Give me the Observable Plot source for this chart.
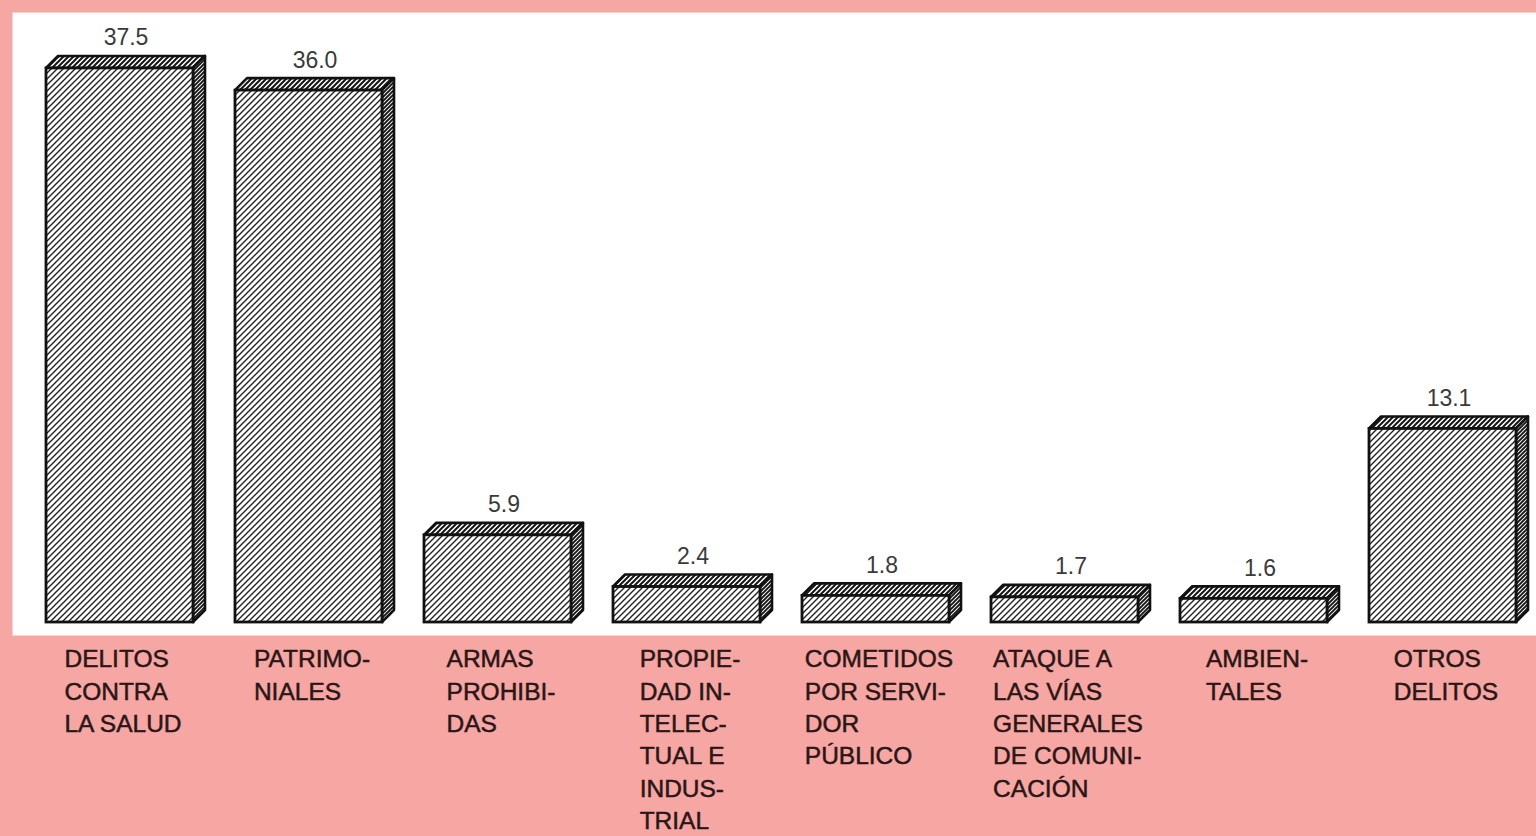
<!DOCTYPE html>
<html><head><meta charset="utf-8">
<script src="https://cdn.jsdelivr.net/npm/d3@7"></script>
<script src="https://cdn.jsdelivr.net/npm/@observablehq/plot@0.6"></script>
<style>
html,body{margin:0;padding:0;background:#F6A6A3;overflow:hidden}
#chart svg{display:block}
</style></head><body><div id="chart"></div>
<script>
const categories = ["Delitos contra la salud","Patrimoniales","Armas prohibidas","Propiedad intelectual e industrial","Cometidos por servidor público","Ataque a las vías generales de comunicación","Ambientales","Otros delitos"];
const values = [37.5, 36.0, 5.9, 2.4, 1.8, 1.7, 1.6, 13.1];
const valueLabels = ["37.5","36.0","5.9","2.4","1.8","1.7","1.6","13.1"];
const categoryLabels = [
  "DELITOS\nCONTRA\nLA SALUD",
  "PATRIMO-\nNIALES",
  "ARMAS\nPROHIBI-\nDAS",
  "PROPIE-\nDAD IN-\nTELEC-\nTUAL E\nINDUS-\nTRIAL",
  "COMETIDOS\nPOR SERVI-\nDOR\nPÚBLICO",
  "ATAQUE A\nLAS VÍAS\nGENERALES\nDE COMUNI-\nCACIÓN",
  "AMBIEN-\nTALES",
  "OTROS\nDELITOS"
];
const data = categories.map((c, i) => ({cat: c, value: values[i], vlabel: valueLabels[i], label: categoryLabels[i]}));

const DEPTH = 12;

function defsMark() {
  const g = d3.create("svg:g");
  const defs = g.append("defs");
  function hatch(id, w, sw, color, bg) {
    const p = defs.append("pattern").attr("id", id).attr("patternUnits", "userSpaceOnUse")
      .attr("width", w).attr("height", w);
    p.append("rect").attr("width", w).attr("height", w).attr("fill", bg);
    p.append("path").attr("d", `M0,${w}L${w},0M${-w/2},${w/2}L${w/2},${-w/2}M${w/2},${w*1.5}L${w*1.5},${w/2}`)
      .attr("stroke", color).attr("stroke-width", sw).attr("fill", "none");
  }
  hatch("hatchFront", 6, 1.4, "#222", "#ffffff");
  hatch("hatchTop", 5, 2.0, "#151515", "#ffffff");
  hatch("hatchSide", 4, 1.9, "#151515", "#f4f4f4");
  return g.node();
}

function facesMark(index, scales) {
  const x = scales.x, y = scales.y;
  const bw = typeof x.bandwidth === "function" ? x.bandwidth() : x.bandwidth;
  const g = d3.create("svg:g").attr("stroke", "#111").attr("stroke-width", 2.6).attr("stroke-linejoin", "round");
  for (const r of data) {
    const x0 = x(r.cat), x1 = x0 + bw, yt = y(r.value), yb = y(0);
    g.append("path").attr("fill", "url(#hatchTop)")
      .attr("d", `M${x0},${yt}L${x0 + DEPTH},${yt - DEPTH}L${x1 + DEPTH},${yt - DEPTH}L${x1},${yt}Z`);
    g.append("path").attr("fill", "url(#hatchSide)")
      .attr("d", `M${x1},${yt}L${x1 + DEPTH},${yt - DEPTH}L${x1 + DEPTH},${yb - DEPTH}L${x1},${yb}Z`);
  }
  return g.node();
}

const chart = Plot.plot({
  width: 1536,
  height: 836,
  marginLeft: 45,
  marginRight: 19,
  marginTop: 31,
  marginBottom: 214,
  style: {background: "#F6A6A3", fontFamily: "'Liberation Sans', Arial, sans-serif"},
  x: {domain: categories, paddingInner: 0.2235, paddingOuter: 0, axis: null},
  y: {domain: [0, 40], axis: null},
  marks: [
    defsMark,
    Plot.frame({fill: "white", stroke: "none", insetLeft: -33, insetRight: -19, insetTop: -19, insetBottom: -13}),
    facesMark,
    Plot.barY(data, {x: "cat", y: "value", fill: "url(#hatchFront)", stroke: "#111", strokeWidth: 2.8}),
    Plot.text(data, {x: "cat", y: "value", text: "vlabel", dx: DEPTH / 2, dy: -23, lineAnchor: "bottom", fontSize: 23, fill: "#3a3a3a"}),
    Plot.text(data, {x: "cat", text: "label", frameAnchor: "bottom", lineAnchor: "top", dy: 22, textAnchor: "start", fontSize: 24.5, lineHeight: 1.32, fill: "#2a1616", stroke: "#2a1616", strokeWidth: 0.5})
  ]
});
document.getElementById("chart").appendChild(chart);

// center each multi-line label block on its bar while keeping lines left-aligned
const textGroups = chart.querySelectorAll('g[aria-label="text"]');
const catGroup = textGroups[textGroups.length - 1];
catGroup.querySelectorAll("text").forEach(t => {
  const w = t.getBBox().width;
  t.setAttribute("transform", `translate(${-w / 2 + 3},0) ` + (t.getAttribute("transform") || ""));
});
</script>
</body></html>
